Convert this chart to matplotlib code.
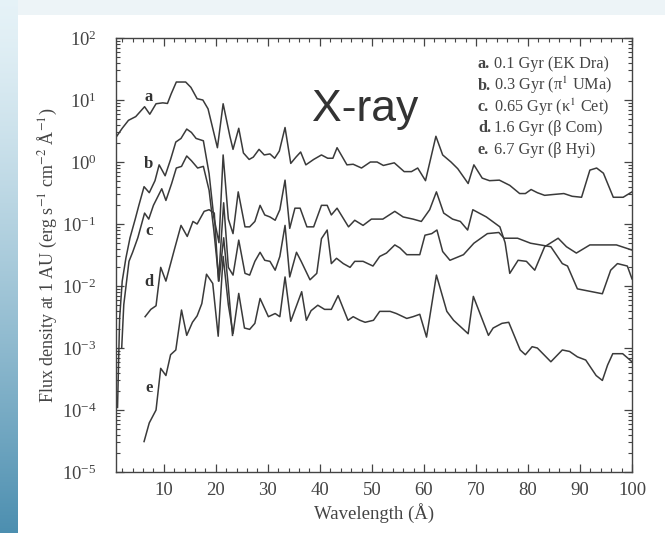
import numpy as np
import matplotlib
matplotlib.use("Agg")
import matplotlib.pyplot as plt
from matplotlib.ticker import MultipleLocator, FixedLocator, LogFormatterMathtext, NullFormatter

plt.rcParams['font.family'] = ['Liberation Serif', 'DejaVu Serif']
plt.rcParams['mathtext.fontset'] = 'stix'

# Spectra (wavelength in Angstrom, flux density)
a_x = [0.8, 2.0, 3.2, 4.6, 6.3, 7.3, 8.5, 9.8, 10.7, 11.4, 12.4, 14.2, 15.2, 16.4, 17.5, 18.5,
       20.3, 21.4, 22.7, 23.3, 24.4, 25.3, 26.4, 27.2, 28.3, 29.3, 30.4, 31.3, 32.2, 33.3, 34.4,
       35.4, 36.3, 37.3, 38.8, 40.3, 41.5, 42.5, 43.3, 45.2, 46.4, 48.0, 49.7, 51.0, 52.2, 54.3,
       56.2, 57.6, 58.8, 60.3, 62.3, 63.6, 65.2, 66.5, 68.5, 69.6, 71.2, 72.6, 74.5, 76.5, 78.4,
       79.5, 80.6, 81.8, 83.2, 85.0, 86.9, 88.5, 90.3, 91.9, 93.2, 94.5, 96.4, 98.3, 100.0]
a_y = [2.5, 3.5, 4.7, 5.4, 7.8, 5.9, 8.7, 9.0, 8.8, 12.5, 19.5, 19.5, 16, 10.5, 10, 7.2,
       1.7, 8.7, 2.6, 1.6, 3.5, 1.4, 1.1, 1.2, 1.6, 1.3, 1.35, 1.15, 1.5, 3.6, 0.95,
       1.2, 1.45, 0.9, 1.1, 1.3, 1.15, 1.15, 1.7, 0.9, 0.92, 0.8, 1.0, 1.0, 0.88, 0.97,
       0.7, 0.7, 0.8, 0.5, 2.6, 1.3, 1.0, 0.78, 0.45, 0.9, 0.55, 0.5, 0.51, 0.42, 0.31,
       0.31, 0.36, 0.32, 0.29, 0.3, 0.31, 0.28, 0.27, 0.74, 0.8, 0.66, 0.27, 0.27, 0.33]

b_x = [1.1, 1.5, 2.0, 2.7, 3.5, 4.5, 5.2, 6.2, 7.2, 8.3, 9.1, 10.25, 11.3, 12.3, 13.3, 14.4,
       15.3, 16.2, 17.6, 18.7, 19.6, 20.6, 21.4, 22.4, 23.3, 24.3, 25.6, 26.5, 27.5, 28.5, 29.4,
       30.4, 31.4, 32.3, 33.3, 34.2, 35.2, 36.2, 37.5, 38.8, 40.3, 41.4, 42.2, 43.3, 45.5, 46.7,
       48.3, 49.9, 52.1, 54.4, 56.0, 57.9, 59.5, 61.1, 62.4, 63.8, 65.5, 67.0, 68.4, 69.4, 72.0,
       74.6, 75.6, 76.5, 78.1, 79.7, 81.3, 83.2, 85.8, 87.4, 89.3, 91.9, 97.0, 100.0]
b_y = [1.1e-4, 3e-3, 1.2e-2, 2.8e-2, 6e-2, 0.12, 0.2, 0.4, 0.32, 0.5, 0.9, 0.6, 1.1, 2.1, 2.4, 3.4,
       3.0, 2.4, 2.2, 0.65, 0.13, 0.05, 1.3, 0.12, 0.07, 0.33, 0.09, 0.09, 0.11, 0.2, 0.14,
       0.13, 0.115, 0.17, 0.51, 0.085, 0.18, 0.18, 0.09, 0.09, 0.2, 0.2, 0.14, 0.18, 0.09, 0.115,
       0.095, 0.12, 0.12, 0.16, 0.13, 0.12, 0.11, 0.17, 0.33, 0.15, 0.12, 0.11, 0.08, 0.17, 0.13,
       0.09, 0.05, 0.016, 0.026, 0.025, 0.018, 0.043, 0.059, 0.043, 0.034, 0.046, 0.046, 0.038]

c_x = [1.9, 2.3, 3.3, 4.0, 5.0, 6.3, 7.1, 8.0, 9.6, 10.4, 11.5, 12.4, 13.4, 14.4, 15.3, 16.5,
       17.6, 18.7, 19.6, 20.6, 21.5, 22.3, 23.2]
c_y = [1e-3, 5e-3, 2.5e-2, 3.5e-2, 6e-2, 0.15, 0.12, 0.2, 0.37, 0.24, 0.45, 0.8, 0.85, 1.25, 1.05, 0.8,
       0.85, 0.35, 0.08, 0.012, 0.06, 0.012, 0.0016]

d_x = [6.4, 7.5, 8.5, 9.4, 10.4, 12.0, 13.3, 14.5, 15.6, 16.4, 17.75, 18.7, 19.7, 20.5, 21.5,
       22.4, 23.3, 24.4, 25.6, 26.5, 27.5, 28.5, 29.4, 30.4, 31.4, 32.3, 33.3, 34.2, 35.5, 36.4,
       38.1, 39.4, 40.3, 41.4, 42.2, 43.2, 44.5, 45.8, 46.7, 48.3, 50.2, 51.5, 52.8, 54.4, 55.4,
       56.7, 59.2, 60.2, 61.5, 62.5, 63.6, 65.0, 67.6, 69.6, 72.2, 74.4, 75.4, 78.0, 80.5, 84.4,
       86.6, 87.6, 89.5, 94.3, 95.9, 97.2, 99.1, 100.0]
d_y = [3.2e-3, 4.2e-3, 4.8e-3, 2e-2, 1.2e-2, 3.8e-2, 9.5e-2, 6.3e-2, 0.11, 0.1, 0.16, 0.17, 0.15, 0.012, 0.22,
       0.02, 0.015, 0.055, 0.016, 0.015, 0.025, 0.035, 0.026, 0.025, 0.018, 0.03, 0.095, 0.014, 0.035, 0.025,
       0.0126, 0.016, 0.058, 0.08, 0.023, 0.028, 0.023, 0.02, 0.025, 0.025, 0.021, 0.03, 0.034, 0.046, 0.041,
       0.032, 0.032, 0.066, 0.07, 0.08, 0.036, 0.026, 0.032, 0.049, 0.07, 0.073, 0.059, 0.059, 0.049, 0.043,
       0.023, 0.021, 0.009, 0.0075, 0.018, 0.023, 0.021, 0.013]

e_x = [6.2, 7.2, 8.5, 9.4, 10.4, 11.3, 12.3, 13.4, 14.4, 15.5, 16.4, 17.3, 18.2, 19.4, 20.45,
       21.4, 22.4, 23.3, 24.4, 25.5, 26.5, 27.5, 28.5, 30.1, 31.4, 32.3, 33.3, 34.4, 36.5, 37.4,
       38.3, 39.6, 40.9, 42.2, 43.5, 45.4, 46.4, 47.7, 48.7, 50.3, 51.5, 53.5, 54.7, 56.7, 57.9,
       59.2, 60.5, 62.4, 64.4, 65.7, 68.5, 69.5, 72.4, 73.3, 75.0, 76.3, 78.5, 79.5, 80.8, 81.8,
       84.4, 86.6, 88.0, 89.5, 91.1, 93.1, 94.3, 95.3, 96.3, 98.2, 100.0]
e_y = [3.1e-5, 6.2e-5, 1e-4, 4.7e-4, 3.6e-4, 7.8e-4, 9.3e-4, 4.1e-3, 1.6e-3, 2.6e-3, 3.3e-3, 5.2e-3, 1.55e-2, 1.1e-2, 1.55e-3,
       3e-2, 5e-3, 1.7e-3, 7.6e-3, 2.1e-3, 2.0e-3, 2.5e-3, 6.3e-3, 3.2e-3, 3.6e-3, 3.2e-3, 1.4e-2, 2.7e-3, 8.1e-3, 2.8e-3,
       4e-3, 4.9e-3, 4.2e-3, 4.2e-3, 7e-3, 2.8e-3, 3.2e-3, 2.8e-3, 2.6e-3, 2.8e-3, 3.9e-3, 3.9e-3, 3.6e-3, 3.0e-3, 3.2e-3,
       3.5e-3, 1.5e-3, 1.5e-2, 3.9e-3, 2.8e-3, 1.7e-3, 6.8e-3, 1.6e-3, 2.1e-3, 2.5e-3, 2.6e-3, 9.3e-4, 7.8e-4, 1.05e-3, 1e-3,
       6e-4, 9.3e-4, 8.8e-4, 7.2e-4, 6.4e-4, 3.6e-4, 3e-4, 5.3e-4, 8.1e-4, 8.1e-4, 6e-4]

curve_names = ['a', 'b', 'c', 'd', 'e']
label_x = 7.1
label_y = [11, 0.93, 0.076, 0.0115, 2.3e-4]
legend_bold = ['a.', 'b.', 'c.', 'd.', 'e.']
legend_text = ['0.1 Gyr (EK Dra)', r'0.3 Gyr (π$^{1}$ UMa)', r'0.65 Gyr (κ$^{1}$ Cet)',
               '1.6 Gyr (β Com)', '6.7 Gyr (β Hyi)']
x_ticks = [10, 20, 30, 40, 50, 60, 70, 80, 90, 100]
y_decades = [-5, -4, -3, -2, -1, 0, 1, 2]

fig = plt.figure(figsize=(6.65, 5.33), dpi=100)

# slide background: pale frame with a blue strip down the left edge
H, W = 533, 665
img = np.ones((H, W, 3))
img[:, :] = np.array([0.93, 0.96, 0.97])
t = np.linspace(0, 1, H)[:, None]
top_col = np.array([0.90, 0.95, 0.97])
bot_col = np.array([0.30, 0.56, 0.69])
strip = top_col * (1 - t**1.3) + bot_col * t**1.3
img[:, :18] = strip[:, None, :]
img[15:, 18:] = 1.0
fig.figimage(img, xo=0, yo=0, origin='upper', zorder=-10)

ax = fig.add_axes([0.1744, 0.1144, 0.776, 0.8143])
ax.patch.set_alpha(0)
line_col = '#3a3a3a'
for xs, ys in [(a_x, a_y), (b_x, b_y), (c_x, c_y), (d_x, d_y), (e_x, e_y)]:
    ax.plot(xs, ys, color=line_col, lw=1.1)

ax.set_yscale('log')
ax.set_xlim(0.8, 100)
ax.set_ylim(1e-5, 1e2)

# ticks only inside the visible range
major_y = [10.0 ** p for p in y_decades]
minor_y = [m * 10.0 ** p for p in y_decades[:-1] for m in range(2, 10)]
ax.xaxis.set_major_locator(FixedLocator(x_ticks))
ax.xaxis.set_minor_locator(FixedLocator([v for v in range(2, 101, 2) if v % 10]))
ax.yaxis.set_major_locator(FixedLocator(major_y))
ax.yaxis.set_minor_locator(FixedLocator(minor_y))
ax.yaxis.set_major_formatter(LogFormatterMathtext())
ax.yaxis.set_minor_formatter(NullFormatter())
ax.tick_params(which='both', direction='in', top=True, right=True, colors='#444444',
               labelcolor='#444444', labelsize=13.5)
ax.tick_params(which='major', length=6, width=0.9)
ax.tick_params(which='minor', length=3, width=0.8)
ax.tick_params(axis='y', pad=14)
ax.tick_params(axis='x', pad=7)
for s in ax.spines.values():
    s.set_color('#444444')
    s.set_linewidth(1.0)

ax.set_xlabel('Wavelength (Å)', fontsize=13.5, color='#444444', labelpad=3)
ax.set_ylabel(r'Flux density at 1 AU (erg s$^{-1}$ cm$^{-2}$ Å$^{-1}$)', fontsize=13,
              color='#444444', labelpad=2)

for name, ly in zip(curve_names, label_y):
    ax.text(label_x, ly, name, fontsize=12, fontweight='bold', color='#333333',
            ha='center', va='center')

for i, (bl, tx) in enumerate(zip(legend_bold, legend_text)):
    yy = 1 - (64 + 21.5 * i) / H
    fig.text(478 / W, yy, bl, fontsize=11.7, fontweight='bold', color='#444444', va='center')
    fig.text(494 / W, yy, tx, fontsize=11.7, color='#444444', va='center')

fig.text(365 / W, 1 - 109 / H, 'X-ray', fontsize=32, color='#333333', ha='center',
         va='center', family=['Liberation Sans', 'DejaVu Sans'])

fig.savefig('out.png', dpi=100)
